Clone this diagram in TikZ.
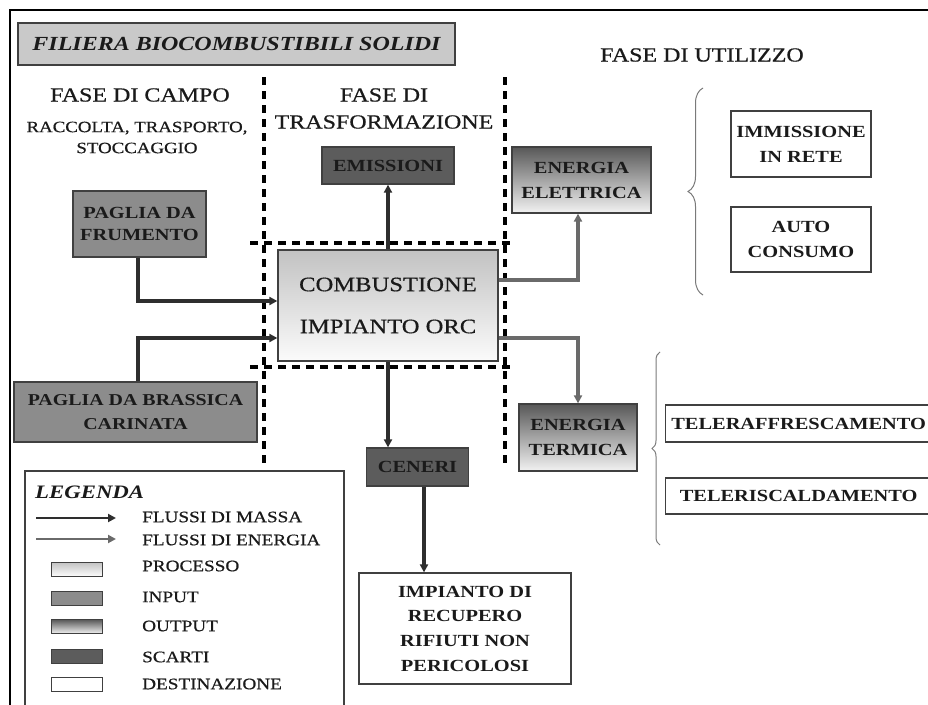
\documentclass[tikz,border=0pt]{standalone}
\usepackage{fontspec}
\setmainfont{Liberation Serif}[FakeStretch=1.2, UprightFeatures={FakeBold=0.6}]
\usetikzlibrary{arrows.meta,decorations.pathreplacing}
\definecolor{txt}{HTML}{1A1A1A}
\definecolor{bordc}{HTML}{404040}
\definecolor{inputc}{HTML}{8C8C8C}
\definecolor{wastec}{HTML}{5C5C5C}
\definecolor{titlec}{HTML}{C9C9C9}
\definecolor{proctop}{HTML}{C2C2C2}
\definecolor{procbot}{HTML}{FBFBFB}
\definecolor{outtop}{HTML}{585858}
\definecolor{outbot}{HTML}{F2F2F2}
\definecolor{massc}{HTML}{2E2E2E}
\definecolor{enc}{HTML}{6A6A6A}
\definecolor{bracec}{HTML}{7A7A7A}
\begin{document}
\begin{tikzpicture}[x=1pt,y=-1pt,
  nbox/.style={draw=bordc, line width=1.3pt, inner sep=0pt, align=center, text=txt,
    font=\bfseries\fontsize{17}{25}\selectfont},
  inbox/.style={nbox, fill=inputc},
  outbox/.style={nbox, top color=outtop, bottom color=outbot},
  waste/.style={nbox, fill=wastec},
  dest/.style={nbox, fill=white},
  proc/.style={nbox, top color=proctop, bottom color=procbot, font=\fontsize{20.5}{42}\selectfont},
  lbl/.style={inner sep=0pt, align=center, text=txt},
  legtxt/.style={inner sep=0pt, anchor=west, text=txt, font=\fontsize{16}{18}\selectfont},
  swatch/.style={draw=bordc, line width=0.9pt, inner sep=0pt, minimum width=51pt, minimum height=14pt},
  mass/.style={draw=massc, line width=3.2pt, -{Triangle[length=8pt,width=8pt]}},
  energy/.style={draw=enc, line width=3.2pt, -{Triangle[length=8pt,width=8pt]}},
  phaseline/.style={line width=3.2pt, dash pattern=on 8pt off 6pt},
  bracestyle/.style={draw=bracec, line width=1pt, decorate}
]
\useasboundingbox (0,0) rectangle (928,704);
\fill[white] (0,0) rectangle (928,704);
% outer frame
\draw[line width=2.6pt] (10,706) -- (10,10) -- (930,10);

% phase separators
\draw[phaseline] (264,77) -- (264,468);
\draw[phaseline] (505,77) -- (505,468);
\draw[phaseline] (250,243) -- (512,243);
\draw[phaseline] (250,367) -- (512,367);

% title
\node[nbox, fill=titlec, minimum width=437pt, minimum height=42pt,
  font=\bfseries\itshape\fontsize{20}{24}\selectfont] (title) at (236.5,44) {FILIERA BIOCOMBUSTIBILI SOLIDI};

% headings
\node[lbl, font=\fontsize{20}{27}\selectfont] (fc) at (140,95) {FASE DI CAMPO};
\node[lbl, font=\fontsize{15.7}{21}\selectfont] (rts) at (137,137.5) {RACCOLTA, TRASPORTO,\\STOCCAGGIO};
\node[lbl, font=\fontsize{20}{27}\selectfont] (ft) at (384,108.5) {FASE DI\\TRASFORMAZIONE};
\node[lbl, font=\fontsize{20}{27}\selectfont] (fu) at (702,55) {FASE DI UTILIZZO};

% boxes
\node[inbox, minimum width=133pt, minimum height=66pt, font=\bfseries\fontsize{17}{22}\selectfont] (fru) at (139.5,224) {PAGLIA DA\\FRUMENTO};
\node[inbox, minimum width=243pt, minimum height=60pt, font=\bfseries\fontsize{16.6}{24}\selectfont] (bra) at (135.5,412) {PAGLIA DA BRASSICA\\CARINATA};
\node[proc, minimum width=220pt, minimum height=111pt] (comb) at (388,305.5) {COMBUSTIONE\\IMPIANTO ORC};
\node[waste, minimum width=132pt, minimum height=37pt] (emi) at (388,165.5) {EMISSIONI};
\node[waste, minimum width=102pt, minimum height=38pt] (cen) at (417.5,467) {CENERI};
\node[outbox, minimum width=139pt, minimum height=66pt] (ele) at (581.5,180) {ENERGIA\\ELETTRICA};
\node[outbox, minimum width=118pt, minimum height=67pt] (ter) at (578,437.5) {ENERGIA\\TERMICA};
\node[dest, minimum width=140pt, minimum height=66pt] (imm) at (801,144) {IMMISSIONE\\IN RETE};
\node[dest, minimum width=140pt, minimum height=65pt] (auto) at (801,239.5) {AUTO\\CONSUMO};
\node[dest, minimum width=266pt, minimum height=37pt, anchor=west] (tra) at (665,423.5) {TELERAFFRESCAMENTO};
\node[dest, minimum width=266pt, minimum height=36pt, anchor=west] (tri) at (665,496) {TELERISCALDAMENTO};
\node[dest, minimum width=212pt, minimum height=111pt, font=\bfseries\fontsize{17}{24.7}\selectfont] (imp) at (465,628.5) {IMPIANTO DI\\RECUPERO\\RIFIUTI NON\\PERICOLOSI};

% braces
\draw[bracestyle, decoration={brace, amplitude=15pt}] (703,295) -- (703,88);
\draw[bracestyle, decoration={brace, amplitude=8pt}] (660,545) -- (660,352);

% mass flows
\draw[mass] ([xshift=-1.5pt]fru.south) |- ([yshift=4.5pt]comb.west);
\draw[mass] ([xshift=2.5pt]bra.north) |- ([yshift=-32.5pt]comb.west);
\draw[mass] (comb.north) -- (emi.south);
\draw[mass] (comb.south) -- (comb.south |- cen.north);
\draw[mass] ([xshift=6.5pt]cen.south) -- ([xshift=6.5pt]cen.south |- imp.north);

% energy flows
\draw[energy] ([yshift=25.5pt]comb.east) -| ([xshift=-3.5pt]ele.south);
\draw[energy] ([yshift=-32.5pt]comb.east) -| (ter.north);

% legend
\draw[draw=bordc, line width=1.3pt] (25,708) -- (25,471) -- (344,471) -- (344,708);
\node[lbl, anchor=west, font=\bfseries\itshape\fontsize{19}{22}\selectfont] (leg) at (35,492) {LEGENDA};
\coordinate (m1) at (36,518);
\coordinate (m2) at (116,518);
\coordinate (e1) at (36,539);
\coordinate (e2) at (116,539);
\draw[mass, line width=2.6pt] (m1) -- (m2);
\draw[energy, line width=2.6pt] (e1) -- (e2);
\node[legtxt] (lm) at (142,517) {FLUSSI DI MASSA};
\node[legtxt] (le) at (142,540) {FLUSSI DI ENERGIA};
\node[swatch, top color=proctop, bottom color=procbot] (sp) at (76.5,569) {};
\node[legtxt] (lp) at (142,566) {PROCESSO};
\node[swatch, fill=inputc] (si) at (76.5,598) {};
\node[legtxt] (li) at (142,597) {INPUT};
\node[swatch, top color=outtop, bottom color=outbot] (so) at (76.5,626.5) {};
\node[legtxt] (lo) at (142,626) {OUTPUT};
\node[swatch, fill=wastec] (ss) at (76.5,656) {};
\node[legtxt] (ls) at (142,657) {SCARTI};
\node[swatch, fill=white] (sd) at (76.5,684.5) {};
\node[legtxt] (ld) at (142,684) {DESTINAZIONE};
\end{tikzpicture}
\end{document}
